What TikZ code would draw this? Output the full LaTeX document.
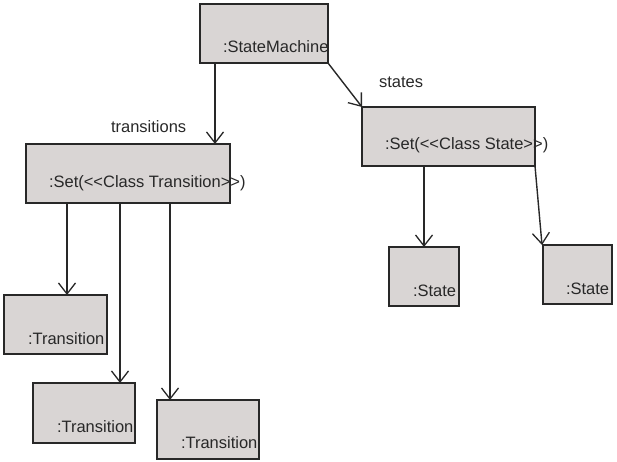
\documentclass[tikz,border=0pt]{standalone}
\usepackage{fontspec}
\setmainfont{Liberation Sans}
\usetikzlibrary{arrows.meta}
\definecolor{boxfill}{RGB}{217,213,212}
\definecolor{ink}{RGB}{40,40,40}
\tikzset{
  objbox/.style={draw=ink, fill=boxfill, line width=1.4pt, rectangle, inner sep=0pt, outer sep=0pt, anchor=north west},
  conn/.style={draw=ink, line width=1.4pt, -{Straight Barb[length=11pt,width=17pt,line width=1.3pt]}},
  lbl/.style={inner sep=0pt, outer sep=0pt, anchor=base west, text=ink, font=\fontsize{16.5}{20}\selectfont},
}
\begin{document}
\begin{tikzpicture}[x=1pt,y=-1pt]
\useasboundingbox (0,0) rectangle (617,462);
% boxes
\node[objbox, minimum width=128pt, minimum height=59pt] (sm) at (200,4) {};
\node[objbox, minimum width=204pt, minimum height=59pt] (st) at (26,144) {};
\node[objbox, minimum width=173pt, minimum height=59pt] (ss) at (362,107) {};
\node[objbox, minimum width=70pt, minimum height=59pt] (s1) at (389,247) {};
\node[objbox, minimum width=69pt, minimum height=59pt] (s2) at (543,245) {};
\node[objbox, minimum width=103pt, minimum height=59pt] (t1) at (4,295) {};
\node[objbox, minimum width=102pt, minimum height=60pt] (t2) at (33,383) {};
\node[objbox, minimum width=102pt, minimum height=59pt] (t3) at (157,400) {};
% texts
\node[lbl] (smt) at (223,53) {:StateMachine};
\node[lbl] (stt) at (49,187) {:Set(<{}<Class Transition>{}>)};
\node[lbl] (sst) at (385,150) {:Set(<{}<Class State>{}>)};
\node[lbl] (s1t) at (413,296) {:State};
\node[lbl] (s2t) at (566,294) {:State};
\node[lbl] (t1t) at (28,344) {:Transition};
\node[lbl] (t2t) at (57,432) {:Transition};
\node[lbl] (t3t) at (181,448) {:Transition};
\node[lbl] (trl) at (111,133) {transitions};
\node[lbl] (stl) at (379,88) {states};
% connectors
\draw[conn] ([xshift=15pt]sm.south west) -- ([xshift=15pt]sm.south west |- st.north);
\draw[conn] (sm.south east) -- (ss.north west);
\draw[conn] (s1.north |- ss.south) -- (s1.north);
\draw[conn] (ss.south east) -- ([xshift=-1pt]s2.north west);
\draw[conn] ([xshift=41pt]st.south west) -- ([xshift=41pt]st.south west |- t1.north);
\draw[conn] ([xshift=94pt]st.south west) -- ([xshift=94pt]st.south west |- t2.north);
\draw[conn] ([xshift=144pt]st.south west) -- ([xshift=144pt]st.south west |- t3.north);
\end{tikzpicture}
\end{document}
